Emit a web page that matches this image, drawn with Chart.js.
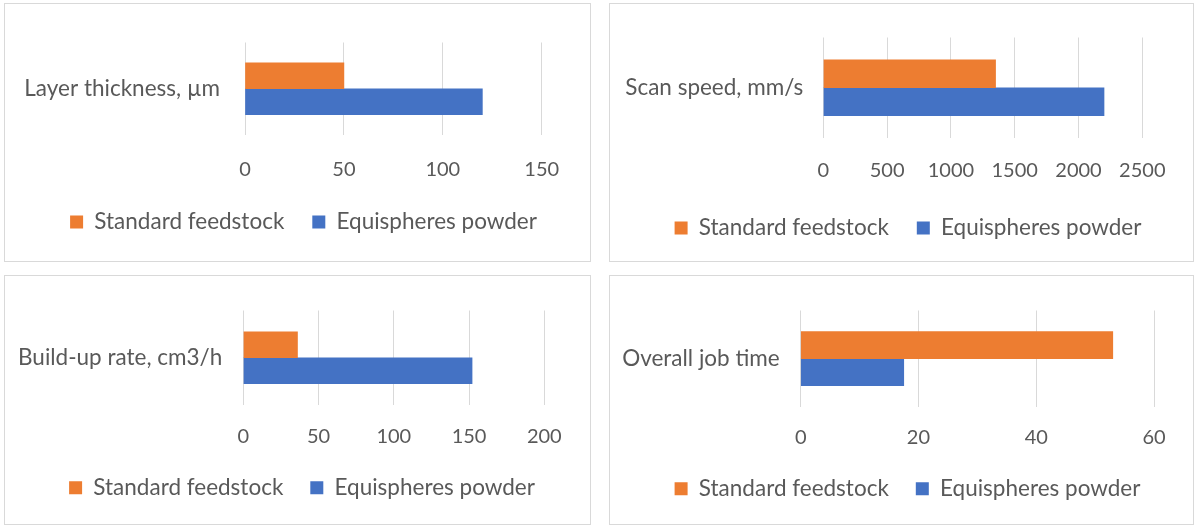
<!DOCTYPE html>
<html>
<head>
<meta charset="utf-8">
<script src="https://cdn.jsdelivr.net/npm/chart.js@4"></script>
<style>
  body { margin: 0; background: #fff; width: 1200px; height: 532px; position: relative; overflow: hidden; }
  .panel { position: absolute; border: 1px solid #d9d9d9; box-sizing: border-box; background: #fff; }
  .panel canvas { display: block; }
</style>
</head>
<body>
<div class="panel" id="p0"><canvas id="c0"></canvas></div>
<div class="panel" id="p1"><canvas id="c1"></canvas></div>
<div class="panel" id="p2"><canvas id="c2"></canvas></div>
<div class="panel" id="p3"><canvas id="c3"></canvas></div>
<script>
const categories = ["Layer thickness, µm", "Scan speed, mm/s", "Build-up rate, cm3/h", "Overall job time"];
const seriesNames = ["Standard feedstock", "Equispheres powder"];
const standardFeedstock = [50, 1350, 36, 53];
const equispheresPowder = [120, 2200, 152, 17.5];
const axisMax = [150, 2500, 200, 60];
const axisStep = [50, 500, 50, 20];

const orange = "#ED7D31";
const blue = "#4472C4";
const textColor = "#595959";
const gridColor = "#d9d9d9";
const textSize = 22.5;
const tickSize = 20;
const textFont = { family: "Lato", size: textSize };
const tickFont = { family: "Lato", size: tickSize };

// panel boxes and plot area geometry (canvas pixels)
const panels = [
  { left: 4, top: 3, width: 587, height: 259, plotLeft: 240, plotRight: 536.7, plotTop: 29, plotBottom: 131, bar: 26, tickY: 166, legendY: 218, shift: 12, gap: 28, labelGap: 25 },
  { left: 609, top: 3, width: 585, height: 259, plotLeft: 213.3, plotRight: 532.3, plotTop: 28, plotBottom: 134, bar: 28, tickY: 167, legendY: 224, shift: 13, gap: 28, labelGap: 20 },
  { left: 4, top: 275, width: 587, height: 250, plotLeft: 238.3, plotRight: 539.3, plotTop: 29, plotBottom: 129, bar: 26, tickY: 160.7, legendY: 211.7, shift: 9, gap: 27, labelGap: 21 },
  { left: 609, top: 275, width: 585, height: 250, plotLeft: 190.7, plotRight: 544, plotTop: 28, plotBottom: 130.7, bar: 27, tickY: 161.7, legendY: 212.7, shift: 12, gap: 27, labelGap: 21 },
];

function makeChart(i) {
  const p = panels[i];
  const div = document.getElementById("p" + i);
  div.style.left = p.left + "px";
  div.style.top = p.top + "px";
  div.style.width = p.width + "px";
  div.style.height = p.height + "px";
  const canvas = document.getElementById("c" + i);
  const W = p.width - 2;
  const H = p.height - 2;
  canvas.width = W;
  canvas.height = H;
  canvas.style.width = W + "px";
  canvas.style.height = H + "px";

  const padL = Math.max(p.shift, 0);
  const padR = Math.max(-p.shift, 0);
  const itemH = textSize;
  const padB = H - p.legendY - 10 - itemH / 2;
  const legendH = itemH + p.gap + 10;
  const xH = H - padB - legendH - p.plotBottom;

  return new Chart(canvas, {
    type: "bar",
    data: {
      labels: [categories[i]],
      datasets: [
        { label: seriesNames[0], data: [standardFeedstock[i]], backgroundColor: orange, borderWidth: 0, barThickness: p.bar, yAxisID: "y" },
        { label: seriesNames[1], data: [equispheresPowder[i]], backgroundColor: blue, borderWidth: 0, barThickness: p.bar, yAxisID: "y" },
      ],
    },
    options: {
      indexAxis: "y",
      responsive: false,
      animation: false,
      devicePixelRatio: 1,
      layout: { padding: { top: p.plotTop, left: padL, right: padR, bottom: padB } },
      scales: {
        x: {
          type: "linear",
          min: 0,
          max: axisMax[i],
          ticks: {
            stepSize: axisStep[i],
            color: textColor,
            font: tickFont,
            padding: p.tickY - p.plotBottom - tickSize * 0.6,
            callback: (v) => String(v),
          },
          grid: { color: gridColor, lineWidth: 1, drawTicks: false },
          border: { display: false },
          afterFit: (s) => { s.height = xH; },
        },
        y: {
          type: "category",
          position: "left",
          ticks: { color: textColor, font: textFont, padding: p.labelGap },
          grid: { display: false, drawTicks: false },
          border: { display: false },
          afterFit: (s) => { s.width = p.plotLeft - padL; },
        },
        yRight: {
          type: "category",
          position: "right",
          ticks: { display: false },
          grid: { display: false, drawTicks: false },
          border: { display: false },
          afterFit: (s) => { s.width = W - padR - p.plotRight; },
        },
      },
      plugins: {
        tooltip: { enabled: false },
        legend: {
          position: "bottom",
          labels: { color: textColor, font: textFont, boxWidth: 13, boxHeight: 13, padding: p.gap },
        },
      },
    },
  });
}

for (let i = 0; i < 4; i++) {
  makeChart(i);
}
</script>
</body>
</html>
